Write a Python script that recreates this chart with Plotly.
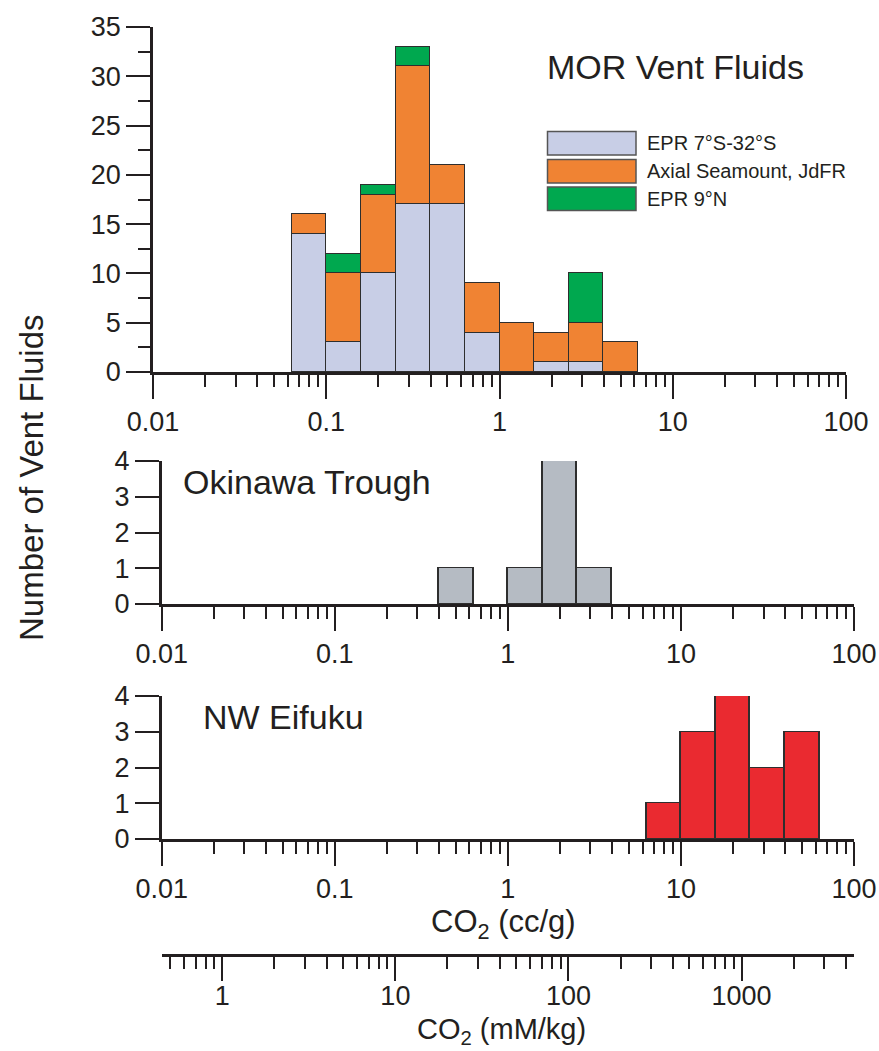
import numpy as np
import plotly.graph_objects as go

# ---------------- data ----------------
# bins are 0.2 decade wide; lower edges given as log10(CO2, cc/g)
mor_bin_lo = [-1.2, -1.0, -0.8, -0.6, -0.4, -0.2, 0.0, 0.2, 0.4, 0.6]
epr_7s_32s = [14, 3, 10, 17, 17, 4, 0, 1, 1, 0]
axial_jdfr = [2, 7, 8, 14, 4, 5, 5, 3, 4, 3]
epr_9n = [0, 2, 1, 2, 0, 0, 0, 0, 5, 0]

oki_bin_lo = [-0.4, 0.0, 0.2, 0.4]
okinawa = [1, 1, 4, 1]

nwe_bin_lo = [0.8, 1.0, 1.2, 1.4, 1.6]
nw_eifuku = [1, 3, 4, 2, 3]

BIN_W = 0.2
x_tick_vals = [-2, -1, 0, 1, 2]
x_tick_text = ["0.01", "0.1", "1", "10", "100"]
mm_tick_vals = [0, 1, 2, 3]
mm_tick_text = ["1", "10", "100", "1000"]
CC_PER_MMOL = 0.0224  # cc/g per mM/kg

# ---------------- style ----------------
W, H = 879, 1051
INK = "#231f20"
EDGE = "#2e2e2e"
FONT = "Liberation Sans, Arial, Helvetica, sans-serif"
C_EPRS = "#c8cee6"
C_AXIAL = "#f08333"
C_EPRN = "#00a84f"
C_OKI = "#b5bbc3"
C_NWE = "#ea2a30"
TICK_SIZE = 27


def px(x):
    return x / W


def py(y):
    return 1 - y / H


def centers(lo):
    return [v + BIN_W / 2 for v in lo]


def nz(vals):
    return [v if v else None for v in vals]


fig = go.Figure()
bar_line = dict(color=EDGE, width=1.5)
for name, vals, col in [("EPR 7°S-32°S", epr_7s_32s, C_EPRS),
                        ("Axial Seamount, JdFR", axial_jdfr, C_AXIAL),
                        ("EPR 9°N", epr_9n, C_EPRN)]:
    fig.add_trace(go.Bar(x=centers(mor_bin_lo), y=nz(vals), width=BIN_W, name=name,
                         marker=dict(color=col, line=bar_line), xaxis="x", yaxis="y"))
fig.add_trace(go.Bar(x=centers(oki_bin_lo), y=okinawa, width=BIN_W, name="Okinawa Trough",
                     marker=dict(color=C_OKI, line=bar_line), xaxis="x2", yaxis="y2"))
fig.add_trace(go.Bar(x=centers(nwe_bin_lo), y=nw_eifuku, width=BIN_W, name="NW Eifuku",
                     marker=dict(color=C_NWE, line=bar_line), xaxis="x3", yaxis="y3"))

mm_lo = float(np.log10(0.01 / CC_PER_MMOL))
mm_hi = float(np.log10(100 / CC_PER_MMOL))
# invisible carrier so the mM/kg axis subplot is drawn
fig.add_trace(go.Scatter(x=[mm_lo, mm_hi], y=[0.5, 0.5], mode="markers",
                         marker=dict(opacity=0, size=1), hoverinfo="skip",
                         showlegend=False, xaxis="x4", yaxis="y4"))

minor_log = [float(np.log10(m * 10.0 ** e)) for e in range(-2, 2) for m in range(2, 10)]


def xaxis(domain, anchor):
    return dict(domain=domain, anchor=anchor, range=[-2, 2],
                tickmode="array", tickvals=x_tick_vals, ticktext=x_tick_text,
                ticks="outside", ticklen=24, tickwidth=2, tickcolor=INK,
                showline=True, linewidth=2.5, linecolor=INK,
                showgrid=False, zeroline=False, automargin=False, fixedrange=True,
                tickfont=dict(size=TICK_SIZE, color=INK, family=FONT),
                minor=dict(tickmode="array", tickvals=minor_log, ticks="outside",
                           ticklen=12, tickwidth=2, tickcolor=INK, showgrid=False))


def yaxis(domain, anchor, rng, major, minor=None):
    d = dict(domain=domain, anchor=anchor, range=rng,
             tickmode="array", tickvals=major,
             ticks="outside", ticklen=24, tickwidth=2, tickcolor=INK,
             showline=True, linewidth=2.5, linecolor=INK,
             showgrid=False, zeroline=False, automargin=False, fixedrange=True,
             tickfont=dict(size=TICK_SIZE, color=INK, family=FONT))
    if minor:
        d["minor"] = dict(tickmode="array", tickvals=minor, ticks="outside",
                          ticklen=12, tickwidth=2, tickcolor=INK, showgrid=False)
    return d


top_x = [px(153), px(846)]
low_x = [px(161.7), px(854)]

mm_minor = sorted(set(round(float(np.log10(m * 10.0 ** e)), 6)
                      for e in range(-1, 4) for m in range(2, 10)
                      if mm_lo <= np.log10(m * 10.0 ** e) <= mm_hi))

fig.update_layout(
    width=W, height=H, margin=dict(l=0, r=0, t=0, b=0),
    paper_bgcolor="white", plot_bgcolor="rgba(0,0,0,0)",
    barmode="stack", bargap=0, showlegend=False,
    font=dict(family=FONT, color=INK),
    xaxis=xaxis(top_x, "y"),
    yaxis=yaxis([py(372), py(27)], "x", [0, 35], list(range(0, 36, 5)),
                [2.5 + 5 * k for k in range(7)]),
    xaxis2=xaxis(low_x, "y2"),
    yaxis2=yaxis([py(604), py(461)], "x2", [0, 4], [0, 1, 2, 3, 4]),
    xaxis3=xaxis(low_x, "y3"),
    yaxis3=yaxis([py(839), py(696)], "x3", [0, 4], [0, 1, 2, 3, 4]),
    xaxis4=dict(domain=low_x, anchor="y4", range=[mm_lo, mm_hi],
                tickmode="array", tickvals=mm_tick_vals, ticktext=mm_tick_text,
                ticks="outside", ticklen=24, tickwidth=2, tickcolor=INK,
                showline=True, linewidth=2.5, linecolor=INK,
                showgrid=False, zeroline=False, automargin=False, fixedrange=True,
                ticklabelstandoff=-8,
                tickfont=dict(size=TICK_SIZE, color=INK, family=FONT),
                minor=dict(tickmode="array", tickvals=mm_minor, ticks="outside",
                           ticklen=12, tickwidth=2, tickcolor=INK, showgrid=False)),
    yaxis4=dict(domain=[py(954), py(950)], anchor="x4", range=[0, 1],
                showline=False, showticklabels=False, ticks="", showgrid=False,
                zeroline=False, fixedrange=True),
)

ann = []


def text(x, y, s, size, xanchor="left", yanchor="middle", angle=0):
    ann.append(dict(x=px(x), y=py(y), xref="paper", yref="paper", text=s, showarrow=False,
                    xanchor=xanchor, yanchor=yanchor, textangle=angle,
                    font=dict(size=size, color=INK, family=FONT)))


text(545, 67, "MOR Vent Fluids", 34)
text(181, 482, "Okinawa Trough", 34)
text(201, 717, "NW Eifuku", 34)
text(31, 478, "Number of Vent Fluids", 33, xanchor="center", angle=-90)
text(503, 924, "CO<sub>2</sub> (cc/g)", 31, xanchor="center")
text(501, 1031, "CO<sub>2</sub> (mM/kg)", 29, xanchor="center")

# legend swatches
shapes = []
leg_items = [("EPR 7°S-32°S", C_EPRS, 131.5, 155),
             ("Axial Seamount, JdFR", C_AXIAL, 159.5, 183),
             ("EPR 9°N", C_EPRN, 187, 210.5)]
for label, col, y0, y1 in leg_items:
    shapes.append(dict(type="rect", xref="paper", yref="paper",
                       x0=px(547.5), x1=px(636), y0=py(y1), y1=py(y0),
                       fillcolor=col, line=dict(color="#555555", width=1.5)))
    text(645, (y0 + y1) / 2, label, 20)

fig.update_layout(annotations=ann, shapes=shapes)

fig.write_html("out.html", config={"displayModeBar": False},
               post_script="document.body.style.margin='0';")
